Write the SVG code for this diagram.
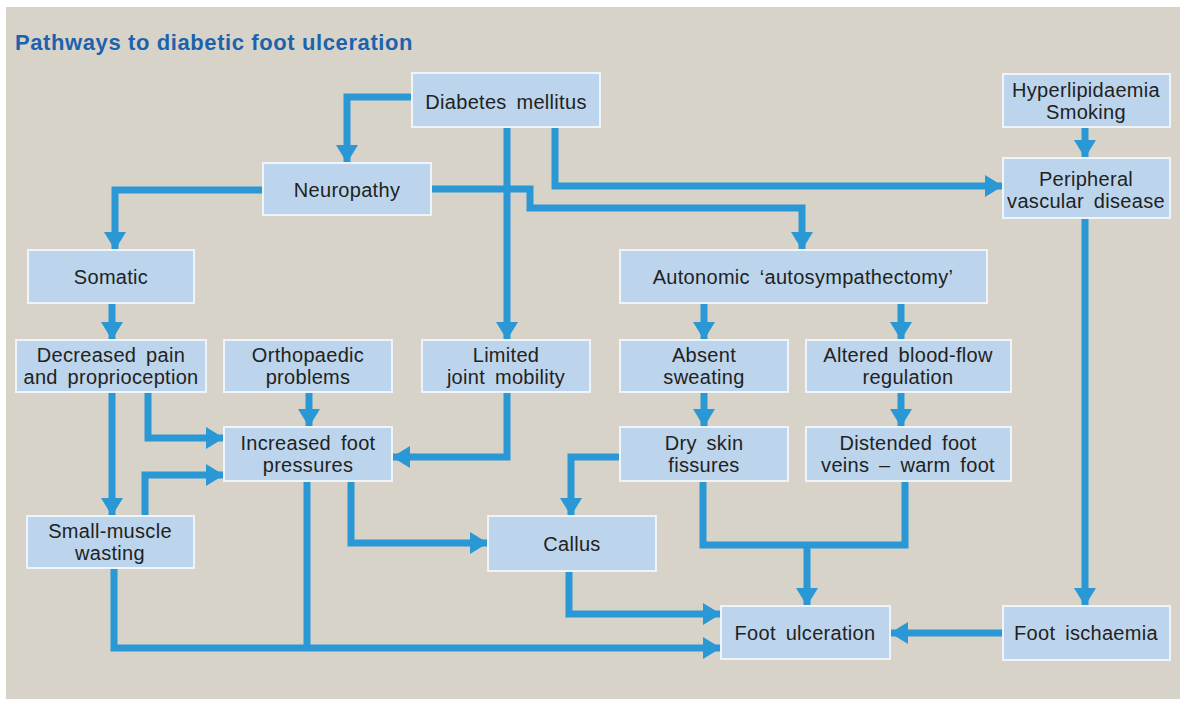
<svg xmlns="http://www.w3.org/2000/svg" width="1186" height="704" viewBox="0 0 1186 704">
<style>
.box{fill:#bcd5ec;stroke:#eef4fa;stroke-width:2}
.t{font-family:"Liberation Sans",Arial,sans-serif;font-size:20px;fill:#222;text-anchor:middle;letter-spacing:0.3px;word-spacing:4px}
.title{font-family:"Liberation Sans",Arial,sans-serif;font-size:22px;font-weight:bold;fill:#1c63ad;letter-spacing:0.6px}
.c{fill:none;stroke:#2a98d5;stroke-width:7;stroke-linejoin:miter}
.a{marker-end:url(#ah)}
</style>
<defs>
<marker id="ah" markerUnits="userSpaceOnUse" markerWidth="18" markerHeight="22" refX="18" refY="11" orient="auto">
<path d="M0,0 L18,11 L0,22 z" fill="#2a98d5"/>
</marker>
</defs>
<rect x="0" y="0" width="1186" height="704" fill="#ffffff"/>
<rect x="6" y="7" width="1174" height="692" fill="#d8d3c9"/>
<text class="title" x="15" y="50">Pathways to diabetic foot ulceration</text>
<g id="connectors">
<path class="c a" d="M412,97 H347 V163"/>
<path class="c a" d="M507,126 V340"/>
<path class="c a" d="M555,126 V186 H1003"/>
<path class="c a" d="M263,190 H115 V250"/>
<path class="c a" d="M431,189 H530 V208 H802 V250"/>
<path class="c a" d="M1085,127 V158"/>
<path class="c a" d="M1085,218 V606"/>
<path class="c a" d="M112,303 V340"/>
<path class="c a" d="M704,303 V340"/>
<path class="c a" d="M901,303 V340"/>
<path class="c a" d="M112,392 V516"/>
<path class="c a" d="M148,392 V438 H224"/>
<path class="c a" d="M145,516 V475 H224"/>
<path class="c a" d="M309,392 V427"/>
<path class="c a" d="M507,392 V457 H392"/>
<path class="c a" d="M704,392 V427"/>
<path class="c a" d="M901,392 V427"/>
<path class="c a" d="M620,457 H571 V516"/>
<path class="c a" d="M351,481 V543 H488"/>
<path class="c a" d="M114,568 V648 H721"/>
<path class="c" d="M307,481 V648"/>
<path class="c a" d="M569,571 V614 H721"/>
<path class="c" d="M703,481 V545 H905 V481"/>
<path class="c a" d="M807,545 V606"/>
<path class="c a" d="M1003,633 H890"/>
</g>
<g id="n-diabetes"><rect class="box" x="412" y="73" width="188" height="54"/><text class="t" x="506" y="109">Diabetes mellitus</text></g>
<g id="n-neuropathy"><rect class="box" x="263" y="163" width="168" height="52"/><text class="t" x="347" y="197">Neuropathy</text></g>
<g id="n-hyper"><rect class="box" x="1003" y="74" width="167" height="53"/><text class="t" x="1086" y="97">Hyperlipidaemia</text><text class="t" x="1086" y="119">Smoking</text></g>
<g id="n-pvd"><rect class="box" x="1003" y="158" width="167" height="60"/><text class="t" x="1086" y="186">Peripheral</text><text class="t" x="1086" y="208">vascular disease</text></g>
<g id="n-somatic"><rect class="box" x="28" y="250" width="166" height="53"/><text class="t" x="111" y="284">Somatic</text></g>
<g id="n-autonomic"><rect class="box" x="620" y="250" width="367" height="53"/><text class="t" x="803" y="284">Autonomic ‘autosympathectomy’</text></g>
<g id="n-decreased"><rect class="box" x="16" y="340" width="190" height="52"/><text class="t" x="111" y="362">Decreased pain</text><text class="t" x="111" y="384">and proprioception</text></g>
<g id="n-ortho"><rect class="box" x="224" y="340" width="168" height="52"/><text class="t" x="308" y="362">Orthopaedic</text><text class="t" x="308" y="384">problems</text></g>
<g id="n-limited"><rect class="box" x="422" y="340" width="168" height="52"/><text class="t" x="506" y="362">Limited</text><text class="t" x="506" y="384">joint mobility</text></g>
<g id="n-absent"><rect class="box" x="620" y="340" width="168" height="52"/><text class="t" x="704" y="362">Absent</text><text class="t" x="704" y="384">sweating</text></g>
<g id="n-altered"><rect class="box" x="806" y="340" width="205" height="52"/><text class="t" x="908" y="362">Altered blood-flow</text><text class="t" x="908" y="384">regulation</text></g>
<g id="n-increased"><rect class="box" x="224" y="427" width="168" height="54"/><text class="t" x="308" y="450">Increased foot</text><text class="t" x="308" y="472">pressures</text></g>
<g id="n-dry"><rect class="box" x="620" y="427" width="168" height="54"/><text class="t" x="704" y="450">Dry skin</text><text class="t" x="704" y="472">fissures</text></g>
<g id="n-distended"><rect class="box" x="806" y="427" width="205" height="54"/><text class="t" x="908" y="450">Distended foot</text><text class="t" x="908" y="472">veins – warm foot</text></g>
<g id="n-small"><rect class="box" x="27" y="516" width="167" height="52"/><text class="t" x="110" y="538">Small-muscle</text><text class="t" x="110" y="560">wasting</text></g>
<g id="n-callus"><rect class="box" x="488" y="516" width="168" height="55"/><text class="t" x="572" y="551">Callus</text></g>
<g id="n-ulceration"><rect class="box" x="721" y="606" width="169" height="53"/><text class="t" x="805" y="640">Foot ulceration</text></g>
<g id="n-ischaemia"><rect class="box" x="1003" y="606" width="167" height="54"/><text class="t" x="1086" y="640">Foot ischaemia</text></g>
</svg>
